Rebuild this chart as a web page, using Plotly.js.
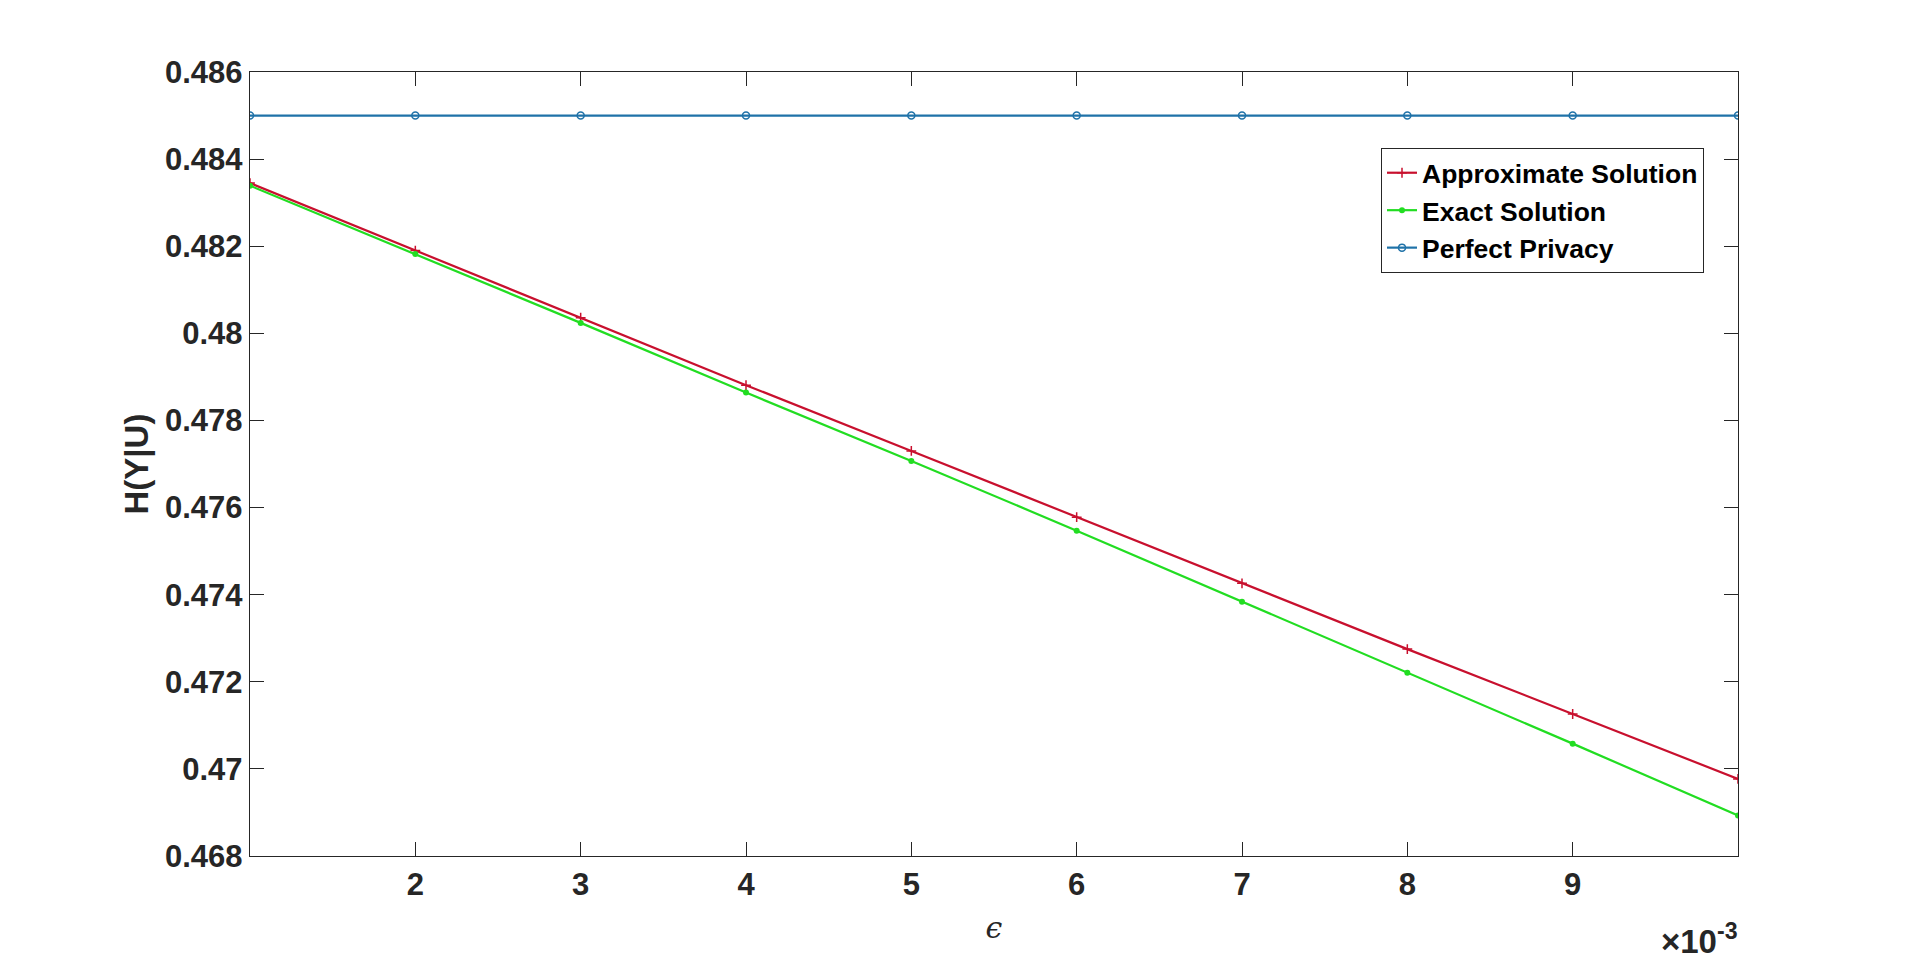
<!DOCTYPE html>
<html>
<head>
<meta charset="utf-8">
<script src="https://cdn.plot.ly/plotly-3.0.1.min.js"></script>
<style>html,body{margin:0;padding:0;background:#fff;}#chart{width:1920px;height:963px;}</style>
</head>
<body>
<div id="chart"></div>
<script>
// epsilon values in units of 10^-3
const epsilon = [1, 2, 3, 4, 5, 6, 7, 8, 9, 10];
const approximateSolution = [0.48345, 0.48190, 0.48036, 0.47881, 0.47730, 0.47578, 0.47426, 0.47275, 0.47126, 0.46977];
const exactSolution = [0.48339, 0.48182, 0.48024, 0.47864, 0.47707, 0.47547, 0.47384, 0.47221, 0.47058, 0.46893];
const perfectPrivacy = [0.485, 0.485, 0.485, 0.485, 0.485, 0.485, 0.485, 0.485, 0.485, 0.485];
const xTickVals = [2, 3, 4, 5, 6, 7, 8, 9];
const xTickText = ['2', '3', '4', '5', '6', '7', '8', '9'];
const yTickVals = [0.468, 0.47, 0.472, 0.474, 0.476, 0.478, 0.48, 0.482, 0.484, 0.486];
const yTickText = ['0.468', '0.47', '0.472', '0.474', '0.476', '0.478', '0.48', '0.482', '0.484', '0.486'];

const font = 'Liberation Sans, Arial, sans-serif';
const traces = [
  {x: epsilon, y: approximateSolution, name: 'Approximate Solution', mode: 'lines+markers',
   line: {color: '#C8102E', width: 2.2}, marker: {symbol: 'cross-thin', size: 7, line: {color: '#C8102E', width: 1.5}}},
  {x: epsilon, y: exactSolution, name: 'Exact Solution', mode: 'lines+markers',
   line: {color: '#22DD22', width: 2.2}, marker: {symbol: 'circle', size: 6, color: '#22DD22'}},
  {x: epsilon, y: perfectPrivacy, name: 'Perfect Privacy', mode: 'lines+markers',
   line: {color: '#1F72A8', width: 2.2}, marker: {symbol: 'circle-open', size: 7, color: '#1F72A8', line: {width: 1.5}}}
];
const layout = {
  width: 1920, height: 963,
  paper_bgcolor: '#fff', plot_bgcolor: '#fff',
  margin: {l: 250, r: 182, t: 72, b: 107},
  showlegend: true,
  xaxis: {
    range: [1, 10], tickvals: xTickVals, ticktext: xTickText,
    ticks: 'inside', ticklen: 14, tickcolor: '#262626', tickwidth: 1,
    showline: true, linecolor: '#262626', linewidth: 1.3, mirror: 'ticks',
    showgrid: false, zeroline: false,
    tickfont: {family: font, size: 31, color: '#262626', weight: 'bold'},
    title: {text: '<i>ϵ</i>', font: {family: 'DejaVu Serif, serif', size: 30, color: '#262626'}, standoff: 16}
  },
  yaxis: {
    range: [0.468, 0.486], tickvals: yTickVals, ticktext: yTickText,
    ticks: 'inside', ticklen: 14, tickcolor: '#262626', tickwidth: 1,
    showline: true, linecolor: '#262626', linewidth: 1.3, mirror: 'ticks',
    showgrid: false, zeroline: false,
    tickfont: {family: font, size: 31, color: '#262626', weight: 'bold'},
    title: {text: 'H(Y|U)', font: {family: font, size: 33, color: '#262626', weight: 'bold'}, standoff: 6}
  },
  annotations: [
    {text: '×10<sup>-3</sup>', xref: 'paper', yref: 'paper', x: 1, y: 0, xanchor: 'right', yanchor: 'top',
     yshift: -60, xshift: 2, showarrow: false, font: {family: font, size: 33, color: '#262626', weight: 'bold'}}
  ],
  legend: {
    x: (1381 - 250) / 1488, y: 1 - (148 - 72) / 784, xanchor: 'left', yanchor: 'top',
    bgcolor: '#fff', bordercolor: '#262626', borderwidth: 1,
    font: {family: font, size: 26.5, color: '#000', weight: 'bold'},
    tracegroupgap: 0, itemwidth: 30
  }
};
Plotly.newPlot('chart', traces, layout, {displayModeBar: false, staticPlot: true});
</script>
</body>
</html>
